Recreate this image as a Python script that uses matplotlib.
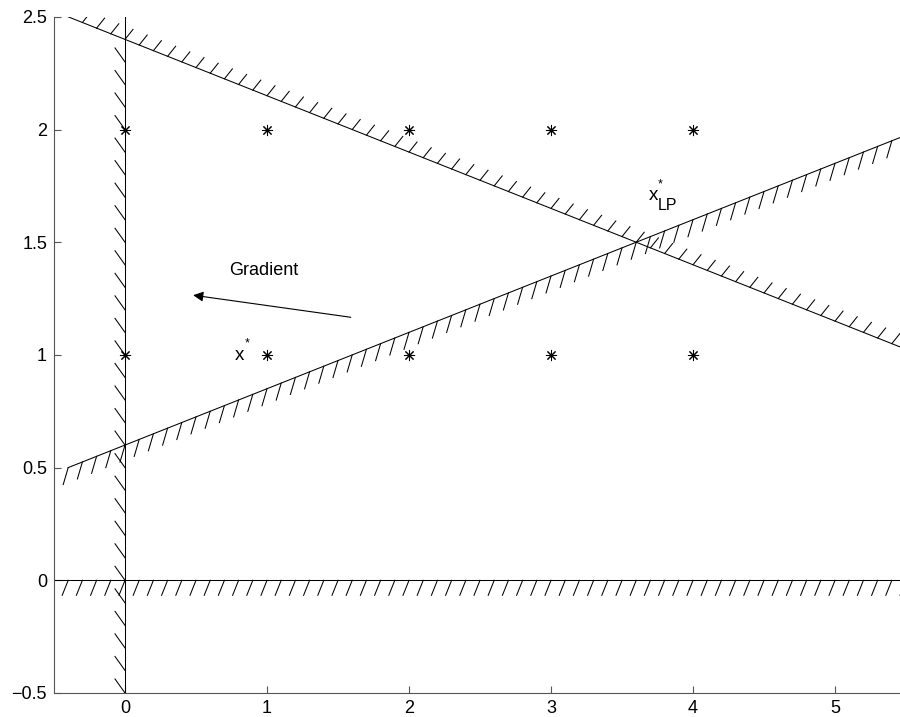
import numpy as np
import matplotlib
matplotlib.use("Agg")
from matplotlib import pyplot as plt

plt.rcParams['font.family'] = ['Liberation Sans', 'DejaVu Sans']

# integer points
pts_x = [0, 1, 2, 3, 4, 0, 1, 2, 3, 4]
pts_y = [1, 1, 1, 1, 1, 2, 2, 2, 2, 2]

# constraint lines y = a + b*x
upper_a, upper_b = 2.4, -0.25
lower_a, lower_b = 0.6, 0.25

xmin, xmax = -0.5, 5.5
ymin, ymax = -0.5, 2.5

fig = plt.figure(figsize=(9, 7.17), dpi=100)
ax = fig.add_axes([0.06, 0.0335, 0.9467, 0.943])
ax.set_xlim(xmin, xmax)
ax.set_ylim(ymin, ymax)

# pixel -> data scale
px_x = (xmax - xmin) / (0.9467 * 900)
px_y = (ymax - ymin) / (0.943 * 717)

lw = 0.75
k = 'black'

# upper line, hatched above
xs = np.array([-0.4, 5.6])
ax.plot(xs, upper_a + upper_b * xs, color=k, lw=lw)
for x in np.arange(-0.3, 5.6, 0.1):
    y = upper_a + upper_b * x
    ax.plot([x, x + 8 * px_x], [y, y + 10 * px_y], color=k, lw=lw)

# lower line, hatched below
ax.plot(xs, lower_a + lower_b * xs, color=k, lw=lw)
for x in np.arange(-0.4, 5.6, 0.1):
    y = lower_a + lower_b * x
    ax.plot([x, x - 5 * px_x], [y, y - 17 * px_y], color=k, lw=lw)

# x = 0, hatched left
ax.plot([0, 0], [ymin, ymax], color=k, lw=lw)
for y in np.arange(-0.5, 2.35, 0.1):
    ax.plot([0, -10 * px_x], [y, y + 14 * px_y], color=k, lw=lw)

# y = 0, hatched below
ax.plot([xmin, xmax], [0, 0], color=k, lw=lw)
for x in np.arange(-0.4, 5.6, 0.1):
    ax.plot([x, x - 6 * px_x], [0, -15 * px_y], color=k, lw=lw)

ax.plot(pts_x, pts_y, linestyle='none', marker=(8, 2, 0), markersize=8,
        color=k, markeredgewidth=0.75)

ax.annotate('', xy=(0.48, 1.265), xytext=(1.59, 1.167),
            arrowprops=dict(arrowstyle='-|>', color=k, lw=0.8,
                            mutation_scale=15, shrinkA=0, shrinkB=0))
ax.text(0.73, 1.375, 'Gradient', fontsize=13, va='center', ha='left')

# x^* label
ax.text(0.772, 0.976, 'x', fontsize=13.5, va='baseline', ha='left')
ax.text(0.842, 1.036, '*', fontsize=9, va='baseline', ha='left')
# x^*_LP label
ax.text(3.688, 1.687, 'x', fontsize=13.5, va='baseline', ha='left')
ax.text(3.752, 1.742, '*', fontsize=9, va='baseline', ha='left')
ax.text(3.75, 1.642, 'LP', fontsize=11.5, va='baseline', ha='left')

ax.set_xticks([0, 1, 2, 3, 4, 5])
ax.set_yticks([-0.5, 0, 0.5, 1, 1.5, 2, 2.5])
ax.set_yticklabels(['\u22120.5', '0', '0.5', '1', '1.5', '2', '2.5'])
for s in ['top', 'right']:
    ax.spines[s].set_visible(False)
for s in ['left', 'bottom']:
    ax.spines[s].set_color('#555555')
    ax.spines[s].set_linewidth(0.8)
ax.tick_params(direction='in', length=5, color='#555555', labelsize=13, pad=5)

fig.savefig('out.png', dpi=100)
